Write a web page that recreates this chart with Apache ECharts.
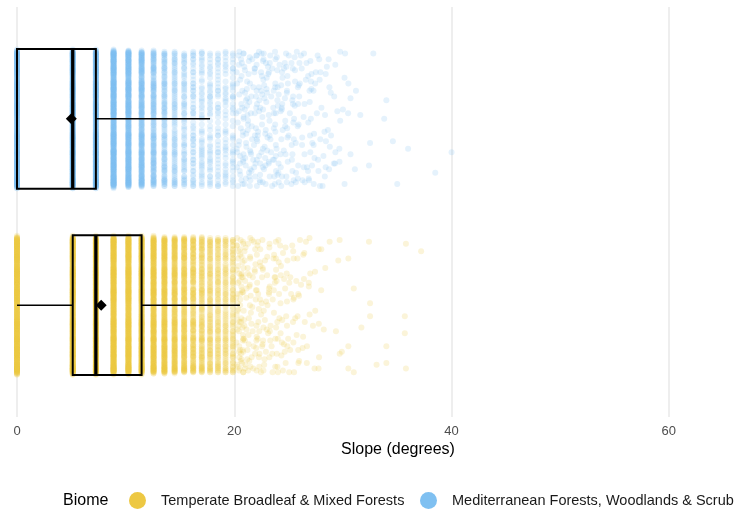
<!DOCTYPE html>
<html><head><meta charset="utf-8">
<script src="https://cdn.jsdelivr.net/npm/echarts@6/dist/echarts.min.js"></script>
<style>html,body{margin:0;padding:0;background:#fff}#chart{width:734px;height:513px}</style>
</head><body><div id="chart"></div>
<script>
// ---- data ----
const biomes = ['Temperate Broadleaf & Mixed Forests', 'Mediterranean Forests, Woodlands & Scrub'];
const biomeLevels = [1, 2];
const biomeColors = ['#EDC843', '#7FC0F1'];
const xTicks = [0, 20, 40, 60];

// discrete slope values (degrees) that form the vertical stripes
const stripeSlopes = [0, 5.13, 7.26, 8.89, 10.26, 11.47, 12.57, 13.57, 14.51, 15.39, 16.22, 17.01, 17.77, 18.50,
  19.20, 19.87, 20.52, 21.15, 21.77, 22.36, 22.94, 23.51, 24.06, 24.60, 25.13, 25.65, 26.16, 26.66, 27.15,
  27.63, 28.10, 28.56, 29.02, 29.47, 29.91, 30.35];
// number of observations on each stripe (estimated from density)
const tempCounts = [500, 500, 500, 480, 450, 420, 360, 300, 250, 210, 170, 140, 120, 105, 92, 80, 62, 30, 27,
  24, 21, 19, 17, 15, 13, 11, 9, 7, 6, 4, 3, 2, 2, 1, 1, 0];
const medCounts = [500, 500, 480, 420, 360, 260, 170, 120, 90, 72, 60, 52, 47, 43, 40, 37, 34, 32, 30,
  28, 26, 24, 22, 20, 18, 16, 14, 13, 12, 10, 9, 8, 6, 5, 4, 3];
// first stripe index from which observations spread between stripes
const spreadFrom = 16;
// sparse high-slope observations
const tempTailSlopes = [32.4, 35.8, 37.2, 29.7, 30.5, 31.0, 32.5, 32.5, 31.7, 35.7, 35.7, 34.0, 33.1, 34.0, 35.8, 31.0, 30.5, 29.9, 30.5];
const tempTailJitter = [0.34, 0.33, 0.29, 0.35, 0.25, 0.09, 0.01, -0.06, -0.12, -0.06, -0.15, -0.22, -0.32, -0.31, -0.34, -0.36, -0.34, -0.25, -0.22];
const medTailSlopes = [30.2, 32.8, 31.2, 30.7, 34.0, 31.6, 33.8, 34.6, 32.5, 36.0, 40.0, 30.7, 32.4, 31.1, 38.5, 35.0];
const medTailJitter = [0.35, 0.35, 0.15, 0.11, 0.10, 0.02, 0.00, -0.12, -0.13, -0.16, -0.18, -0.19, -0.25, -0.27, -0.29, -0.35];
// box statistics: min, Q1, median, Q3, max (whisker ends)
const tempStats = [0, 5.13, 7.26, 11.47, 20.52];
const medStats = [0, 0, 5.13, 7.26, 17.77];
const meanSlopes = [7.75, 5.0];

// jitter offsets (layout only)
const jitterY = [0.12, -0.31, 0.27, -0.05, 0.34, -0.22, 0.03, -0.35, 0.19, -0.14, 0.30, -0.28, 0.08, -0.02, 0.23,
  -0.33, 0.15, -0.09, 0.35, -0.18, 0.01, -0.26, 0.21, -0.12, 0.32, -0.36, 0.06, -0.20, 0.25, -0.07, 0.13, -0.30,
  0.29, -0.16, 0.04, -0.24, 0.36, -0.11, 0.17, -0.34, 0.10, -0.03, 0.26, -0.29, 0.07, -0.19, 0.33, -0.13, 0.20,
  -0.32, 0.00, -0.25, 0.16, -0.08, 0.31, -0.21, 0.09, -0.35, 0.24, -0.15, 0.02, -0.27, 0.28, -0.06, 0.14, -0.31,
  0.35, -0.17, 0.11, -0.23, 0.05, -0.01, 0.22, -0.34, 0.18, -0.10, 0.30, -0.26, 0.08, -0.19, 0.27, -0.04, 0.12,
  -0.33, 0.34, -0.14, 0.19, -0.28, 0.03, -0.22, 0.25, -0.11, 0.15, -0.36, 0.06, -0.18, 0.32, -0.24, 0.17, -0.09];
const jitterFine = [0, 0.006, -0.006, 0.012, -0.012, 0.003, -0.003];
const jitterX = [0.41, -0.87, 0.13, 0.66, -0.29, -0.95, 0.78, 0.02, -0.54, 0.92, -0.16, 0.35, -0.71, 0.57,
  -0.08, 0.99, -0.43, 0.24, -0.82, 0.69, -0.37, 0.08, -0.61, 0.85, -0.22, 0.48, -0.99, 0.31, -0.12, 0.74,
  -0.50, 0.18, -0.77, 0.60, 0.95, -0.33, 0.05, -0.66, 0.52, -0.90, 0.27, -0.04, 0.81, -0.47, 0.38, -0.19,
  0.70, -0.58, 0.10, -0.84, 0.45, -0.26, 0.89];
const XSPREAD = 0.34;

function buildPoints(counts, tailSlopes, tailJitter, level, seedShift) {
  const pts = [];
  const L = jitterY.length, LX = jitterX.length;
  counts.forEach((c, k) => {
    for (let i = 0; i < c; i++) {
      const j = jitterY[(i + k * 37 + seedShift) % L] + jitterFine[Math.floor(i / L) % jitterFine.length];
      const dx = k >= spreadFrom ? jitterX[(i * 3 + k * 7 + seedShift) % LX] * XSPREAD : 0;
      pts.push([stripeSlopes[k] + dx, level + j]);
    }
  });
  tailSlopes.forEach((s, i) => pts.push([s, level + tailJitter[i]]));
  return pts;
}

const tempPts = buildPoints(tempCounts, tempTailSlopes, tempTailJitter, biomeLevels[0], 0);
const medPts = buildPoints(medCounts, medTailSlopes, medTailJitter, biomeLevels[1], 11);

const HALF = 0.375;
function renderBox(params, api) {
  const y = api.value(0);
  const v = [api.value(1), api.value(2), api.value(3), api.value(4), api.value(5)];
  const px = v.map(x => api.coord([x, y])[0]);
  const cy = api.coord([0, y])[1];
  const top = api.coord([0, y + HALF])[1];
  const bot = api.coord([0, y - HALF])[1];
  const children = [];
  if (px[1] > px[0] + 0.5) children.push({type: 'line', shape: {x1: px[0], y1: cy, x2: px[1], y2: cy}, style: {stroke: '#000', lineWidth: 1.5}});
  children.push({type: 'line', shape: {x1: px[3], y1: cy, x2: px[4], y2: cy}, style: {stroke: '#000', lineWidth: 1.5}});
  children.push({type: 'rect', shape: {x: px[1], y: top, width: px[3] - px[1], height: bot - top}, style: {fill: 'none', stroke: '#000', lineWidth: 2}});
  children.push({type: 'line', shape: {x1: px[2], y1: top, x2: px[2], y2: bot}, style: {stroke: '#000', lineWidth: 3.3}});
  return {type: 'group', children};
}

const chart = echarts.init(document.getElementById('chart'), null, {renderer: 'canvas'});
const font = 'Liberation Sans, Arial, Helvetica, sans-serif';
chart.setOption({
  animation: false,
  backgroundColor: '#ffffff',
  grid: {left: 17, right: 0, top: 7, bottom: 96, containLabel: false, outerBoundsMode: 'none'},
  xAxis: {
    type: 'value', min: 0, max: 66, interval: 20,
    axisLine: {show: false}, axisTick: {show: false},
    axisLabel: {fontSize: 13, color: '#4D4D4D', margin: 8, fontFamily: font, showMaxLabel: false,
      formatter: v => (xTicks.indexOf(v) >= 0 ? String(v) : '')},
    splitLine: {show: true, showMaxLine: false, lineStyle: {color: '#E8E8E8', width: 1.5}}
  },
  yAxis: {
    type: 'value', min: 0.4, max: 2.6, show: false,
    splitLine: {show: false}
  },
  legend: [
    {data: [biomes[0]], left: 129, top: 492, padding: 0, itemWidth: 17, itemHeight: 17, icon: 'circle', selectedMode: false,
      itemStyle: {opacity: 1}, textStyle: {fontSize: 14.5, color: '#1A1A1A', fontFamily: font, padding: [0, 0, 0, 10]}},
    {data: [biomes[1]], left: 420, top: 492, padding: 0, itemWidth: 17, itemHeight: 17, icon: 'circle', selectedMode: false,
      itemStyle: {opacity: 1}, textStyle: {fontSize: 14.5, color: '#1A1A1A', fontFamily: font, padding: [0, 0, 0, 10]}}
  ],
  graphic: [
    {type: 'text', x: 398, y: 450, style: {text: 'Slope (degrees)', align: 'center', verticalAlign: 'middle', fontSize: 16, fill: '#000', fontFamily: font}},
    {type: 'text', x: 63, y: 501, style: {text: 'Biome', align: 'left', verticalAlign: 'middle', fontSize: 16, fill: '#000', fontFamily: font}}
  ],
  series: [
    {name: biomes[0], type: 'scatter', data: tempPts, symbol: 'circle', symbolSize: 6, clip: false,
      large: false, progressive: 0, silent: true, z: 2,
      itemStyle: {color: biomeColors[0], opacity: 0.2}},
    {name: biomes[1], type: 'scatter', data: medPts, symbol: 'circle', symbolSize: 6, clip: false,
      large: false, progressive: 0, silent: true, z: 2,
      itemStyle: {color: biomeColors[1], opacity: 0.2}},
    {name: 'box', type: 'custom', renderItem: renderBox, z: 5, silent: true,
      encode: {x: [1, 2, 3, 4, 5], y: 0},
      data: [[biomeLevels[0]].concat(tempStats), [biomeLevels[1]].concat(medStats)]},
    {name: 'mean', type: 'scatter', symbol: 'diamond', symbolSize: 11, z: 6, silent: true,
      itemStyle: {color: '#000', opacity: 1},
      data: [[meanSlopes[0], biomeLevels[0]], [meanSlopes[1], biomeLevels[1]]]}
  ]
});
</script></body></html>
